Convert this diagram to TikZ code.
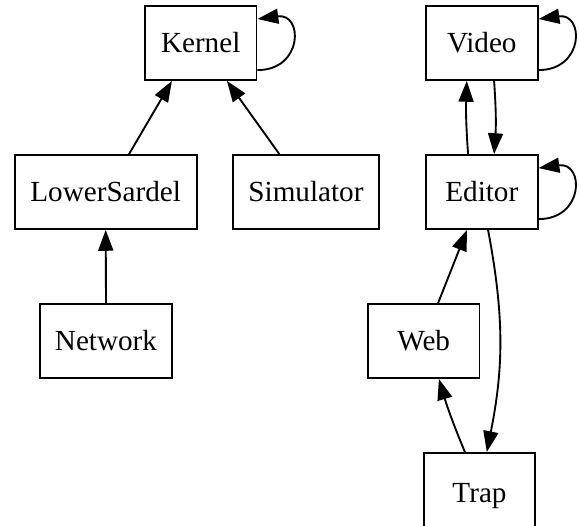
\documentclass[tikz,border=0pt]{standalone}
\usepackage{fontspec}
\setmainfont{Liberation Serif}
\usetikzlibrary{arrows.meta}
\begin{document}
\begin{tikzpicture}[x=0.48pt,y=-0.48pt,
  box/.style={draw,line width=0.9pt,rectangle,inner sep=0pt,minimum height=35.5pt,font=\fontsize{14pt}{16pt}\selectfont},
  edge/.style={line width=0.9pt,-{Triangle[length=10pt,width=7.2pt]}}]
\useasboundingbox (0,0) rectangle (579,525);
\node[box,minimum width=53.6pt] (Kernel) at (200.7,43) {Kernel};
\node[box,minimum width=53.6pt] (Video) at (481.8,43) {Video};
\node[box,minimum width=87.4pt] (LowerSardel) at (105.7,192) {LowerSardel};
\node[box,minimum width=69.8pt] (Simulator) at (306,192) {Simulator};
\node[box,minimum width=53.6pt] (Editor) at (481.8,192) {Editor};
\node[box,minimum width=63.4pt] (Network) at (106,341) {Network};
\node[box,minimum width=53.6pt] (Web) at (423.7,341) {Web};
\node[box,minimum width=53.6pt,minimum height=38pt,text depth=-1pt] (Trap) at (479.5,492.5) {Trap};
% left tree
\draw[edge] ([xshift=11.2pt]LowerSardel.north) -- ([xshift=-13.8pt]Kernel.south);
\draw[edge] ([xshift=-12.8pt]Simulator.north) -- ([xshift=12.6pt]Kernel.south);
\draw[edge] (Network.north) -- (LowerSardel.south);
% self loops
\draw[edge] ([yshift=-13pt]Kernel.east) .. controls +(22pt,0) and +(22pt,3pt) .. ([yshift=11.5pt]Kernel.east);
\draw[edge] ([yshift=-13pt]Video.east) .. controls +(22pt,0) and +(22pt,3pt) .. ([yshift=11.5pt]Video.east);
\draw[edge] ([yshift=-13pt]Editor.east) .. controls +(22pt,0) and +(22pt,3pt) .. ([yshift=11.5pt]Editor.east);
% right part
\draw[edge] ([xshift=-6.6pt]Editor.north) to[bend left=3] ([xshift=-7.2pt]Video.south);
\draw[edge] ([xshift=5.9pt]Video.south) to[bend left=4] ([xshift=5.9pt]Editor.north);
\draw[edge] ([xshift=6.9pt]Web.north) -- ([xshift=-7.1pt]Editor.south);
\draw[edge] ([xshift=-7pt]Trap.north) to[bend left=3] ([xshift=7.3pt]Web.south);
\draw[edge] ([xshift=3pt]Editor.south) to[bend left=11] ([xshift=3.5pt]Trap.north);
\end{tikzpicture}
\end{document}
